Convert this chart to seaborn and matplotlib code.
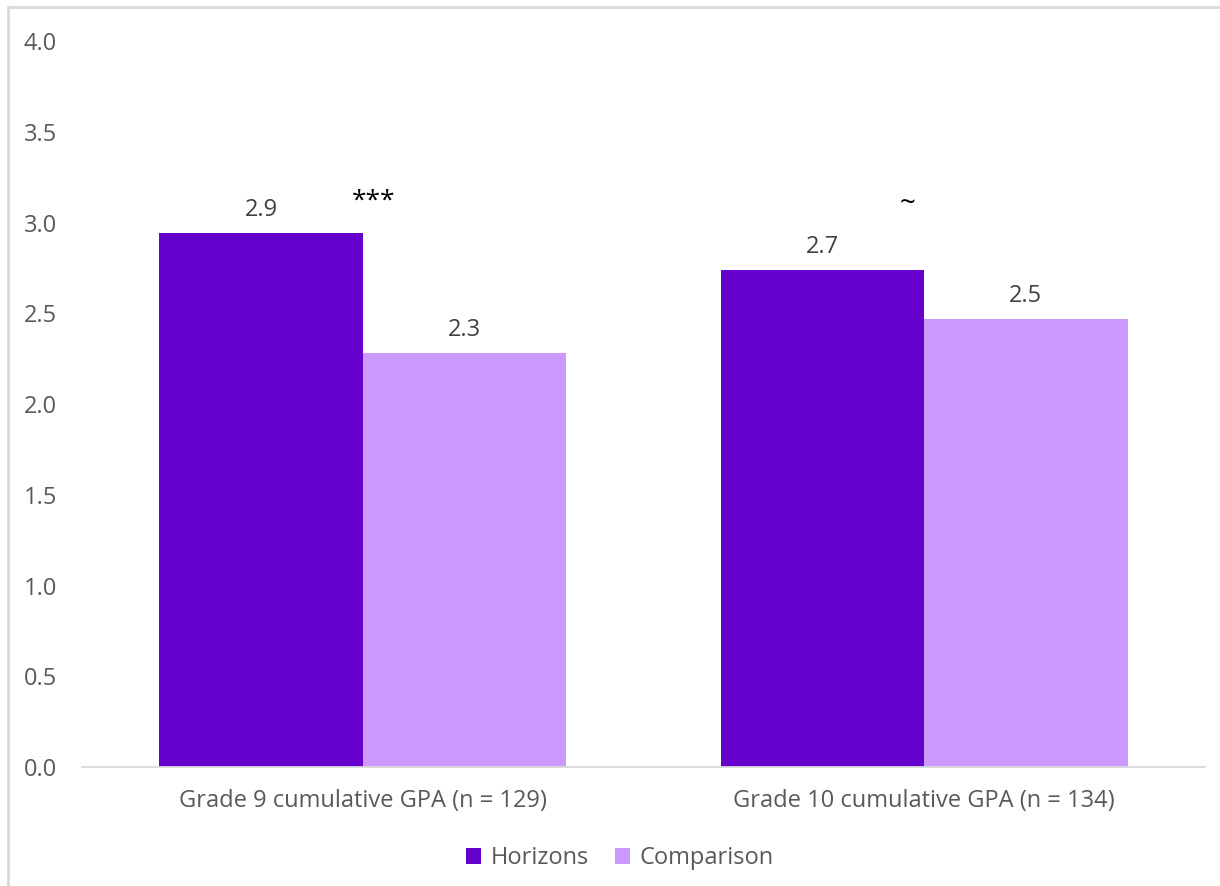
import matplotlib as mpl
import matplotlib.pyplot as plt
import pandas as pd
import seaborn as sns
from matplotlib.lines import Line2D

# Data
categories = ["Grade 9 cumulative GPA (n = 129)", "Grade 10 cumulative GPA (n = 134)"]
groups = ["Horizons", "Comparison"]
horizons = [2.94, 2.74]
comparison = [2.28, 2.47]
value_labels = {"Horizons": ["2.9", "2.7"], "Comparison": ["2.3", "2.5"]}
sig_marks = ["***", "~"]
yticks = [0.0, 0.5, 1.0, 1.5, 2.0, 2.5, 3.0, 3.5, 4.0]

colors = {"Horizons": "#6600CC", "Comparison": "#CC99FF"}
text_gray = "#595959"

df = pd.DataFrame({
    "category": categories * 2,
    "group": [groups[0]] * 2 + [groups[1]] * 2,
    "gpa": horizons + comparison,
})

sns.set_style("white")
mpl.rcParams["font.family"] = ["Open Sans", "DejaVu Sans"]

fig = plt.figure(figsize=(12.2, 8.86), dpi=100)
ax = fig.add_axes([0.0672, 0.1343, 0.9205, 0.8194])

sns.barplot(
    ax=ax, data=df, x="category", y="gpa", hue="group",
    hue_order=groups, palette=colors, width=0.724, gap=0,
    saturation=1, errorbar=None, linewidth=0,
)

# Value labels above bars
for cont, grp in zip(ax.containers, groups):
    ax.bar_label(cont, labels=value_labels[grp], padding=8,
                 fontsize=17, color="#404040")

# Significance markers (placed beside each category's centre)
ax.text(0 + 0.02, 3.12, sig_marks[0], ha="center", va="center",
        fontsize=19, color="black")
ax.text(1 - 0.03, 3.10, sig_marks[1], ha="center", va="center",
        fontsize=20, color="black")

ax.set_ylim(0, 4.0)
ax.set_xlim(-0.5, 1.5)
ax.set_yticks(yticks)
ax.set_yticklabels([f"{t:.1f}" for t in yticks])
ax.set_xlabel("")
ax.set_ylabel("")
ax.tick_params(axis="both", length=0, labelsize=17, labelcolor=text_gray)
ax.tick_params(axis="x", pad=16)
ax.tick_params(axis="y", pad=18)

for side in ["top", "right", "left"]:
    ax.spines[side].set_visible(False)
ax.spines["bottom"].set_color("#D9D9D9")
ax.spines["bottom"].set_linewidth(1.3)

ax.legend(
    loc="upper center", bbox_to_anchor=(0.479, -0.08), ncol=2,
    frameon=False, fontsize=17, handlelength=0.65, handleheight=0.65,
    handletextpad=0.4, columnspacing=1.1, labelcolor=text_gray,
)

# Chart-area border (left and top edges visible)
fig.add_artist(Line2D([0.0066, 0.0066], [0.0, 0.992], color="#D9D9D9",
                      linewidth=2, transform=fig.transFigure))
fig.add_artist(Line2D([0.0066, 1.0], [0.992, 0.992], color="#D9D9D9",
                      linewidth=2, transform=fig.transFigure))

plt.savefig("out.png", dpi=100)
